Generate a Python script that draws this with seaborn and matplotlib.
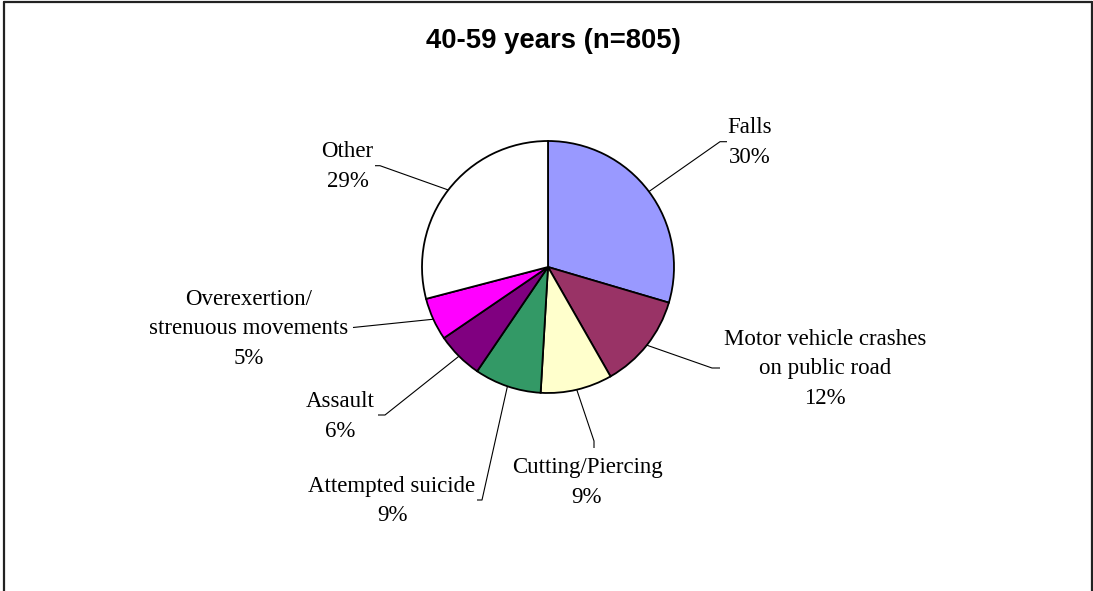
import numpy as np
import matplotlib
matplotlib.use("Agg")
import matplotlib.pyplot as plt
import seaborn as sns
from matplotlib.lines import Line2D

# ---- data ----
title = "40-59 years (n=805)"
categories = ["Falls", "Motor vehicle crashes\non public road", "Cutting/Piercing",
              "Attempted suicide", "Assault", "Overexertion/\nstrenuous movements", "Other"]
counts = [238, 98, 74, 69, 48, 44, 234]
colors = ["#9999FF", "#993366", "#FFFFCC", "#339966", "#800080", "#FF00FF", "#FFFFFF"]

sns.set_theme(style="white")
plt.rcParams["font.family"] = ["Liberation Serif", "DejaVu Serif"]
plt.rcParams["text.color"] = "black"

W, H = 1093, 591
CX, CY, R = 548.0, 267.0, 126.0

fig = plt.figure(figsize=(W / 100, H / 100), dpi=100)
fig.patch.set_facecolor("white")
ax = fig.add_axes([0, 0, 1, 1])


def px(x, y):
    return ((x - CX) / R, (CY - y) / R)


wedges, _ = ax.pie(counts, colors=colors, startangle=90, counterclock=False,
                   radius=1, center=(0, 0),
                   wedgeprops=dict(edgecolor="black", linewidth=1.3))
ax.set_aspect("auto")
x0, _ = px(0, 0)
x1, _ = px(W, 0)
_, y0 = px(0, H)
_, y1 = px(0, 0)
ax.set_xlim(x0, x1)
ax.set_ylim(y0, y1)
ax.axis("off")

# label layout (pixels): text centre, elbow point, end point
layout = [
    ((750, 142.5), (720, 141.7), (727, 141.7)),
    ((825, 369.0), (712, 368.0), (720, 368.0)),
    ((587, 482.5), (594, 441.0), (594, 448.0)),
    ((392, 501.0), (482, 500.0), (477, 500.0)),
    ((340, 416.5), (385, 415.0), (378, 415.0)),
    ((249, 329.0), (353, 327.5), (353, 327.5)),
    ((347.5, 166.5), (380, 165.7), (375, 165.7)),
]

total = sum(counts)
for w, cat, v, (tc, el, en) in zip(wedges, categories, counts, layout):
    ang = np.deg2rad((w.theta1 + w.theta2) / 2)
    sx, sy = np.cos(ang), np.sin(ang)
    ex, ey = px(*el)
    nx, ny = px(*en)
    ax.plot([sx, ex, nx], [sy, ey, ny], color="black", lw=0.8,
            solid_capstyle="butt", zorder=1)
    tx, ty = px(*tc)
    ax.text(tx, ty, f"{cat}\n{round(100 * v / total)}%", ha="center", va="center",
            multialignment="center", fontsize=16.5, linespacing=1.55, color="black")

fig.text(553 / W, 1 - 41 / H, title, ha="center", va="center", fontsize=19.8,
         fontweight="bold", color="black", family=["Liberation Sans", "DejaVu Sans"])

# chart frame (left, top, right)
lc = "#222222"
fig.add_artist(Line2D([3.5 / W, 3.5 / W], [0, 1 - 1.5 / H], color=lc, lw=1.6))
fig.add_artist(Line2D([3.5 / W, 1091.5 / W], [1 - 1.5 / H, 1 - 1.5 / H], color=lc, lw=1.6))
fig.add_artist(Line2D([1091.5 / W, 1091.5 / W], [0, 1 - 1.5 / H], color=lc, lw=1.6))

fig.savefig("out.png", dpi=100, facecolor="white")
